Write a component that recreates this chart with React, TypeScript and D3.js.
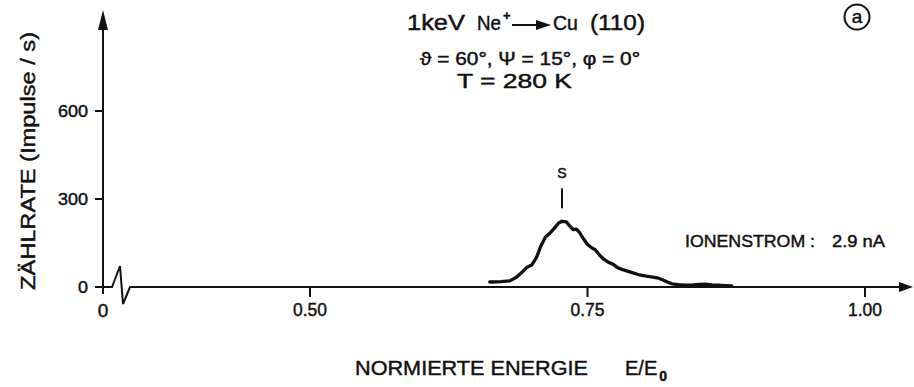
import React from "react";
import * as d3 from "d3";

// Energy spectrum of scattered Ne+ ions (normalised energy E/E0) and count rate
const ENERGY = [
  0.662, 0.672, 0.680, 0.686, 0.691, 0.695, 0.700, 0.704, 0.708, 0.712, 0.716,
  0.720, 0.724, 0.727, 0.731, 0.734, 0.737, 0.740, 0.743, 0.746, 0.750, 0.754,
  0.757, 0.761, 0.765, 0.769, 0.773, 0.777, 0.781, 0.786, 0.791, 0.797, 0.803,
  0.809, 0.814, 0.818, 0.822, 0.826, 0.832, 0.838, 0.845, 0.851, 0.856, 0.862,
  0.868, 0.874, 0.880,
];
const COUNTS = [
  17, 18, 21, 33, 50, 66, 76, 100, 140, 170, 183,
  200, 218, 224, 222, 208, 196, 197, 185, 166, 145, 133,
  127, 108, 94, 84, 78, 66, 60, 54, 48, 41, 37,
  34, 30, 24, 17, 11, 8, 6, 7, 9, 10, 7,
  6, 5, 4,
];

const X_TICKS = [0.5, 0.75, 1.0];
const X_TICK_LABELS = ["0.50", "0.75", "1.00"];
const Y_TICKS = [0, 300, 600];
const Y_TICK_LABELS = ["0", "300", "600"];

const PEAK_LABEL = "S";
const FONT = "'Liberation Sans', Arial, sans-serif";

// slightly heavier lettering than the plain regular face
const ink = { fill: "#111", stroke: "#111", strokeWidth: 0.45 };

export default function App() {
  const width = 914;
  const height = 387;

  const x = d3.scaleLinear().domain([0.5, 1.0]).range([310, 865]);
  const y = d3.scaleLinear().domain([0, 600]).range([287, 111]);

  const axisX = 103; // y-axis position (origin of the broken x-axis)
  const y0 = y(0);

  const line = d3
    .line<number>()
    .x((_, i) => x(ENERGY[i]))
    .y((d) => y(d))
    .curve(d3.curveLinear);

  const peakIdx = COUNTS.indexOf(d3.max(COUNTS) as number);
  const peakX = x(ENERGY[peakIdx]);
  const peakY = y(COUNTS[peakIdx]);

  // axis break zig-zag right of the origin
  const breakPath = [
    [axisX, y0],
    [axisX + 9, y0],
    [axisX + 17, y0 - 21],
    [axisX + 20, y0 + 17],
    [axisX + 27, y0],
    [width - 14, y0],
  ];

  const stroke = "#111";

  return (
    <svg
      width={width}
      height={height}
      style={{ position: "absolute", left: 0, top: 0, background: "#fff" }}
      fontFamily={FONT}
    >
      <rect width={width} height={height} fill="#fff" />

      {/* y axis with arrow */}
      <line x1={axisX} x2={axisX} y1={26} y2={y0 + 7} stroke={stroke} strokeWidth={2} />
      <path d={`M${axisX},10 L${axisX - 5},30 L${axisX + 5},30 Z`} fill={stroke} />

      {/* x axis with break and arrow */}
      <path
        d={d3.line()(breakPath as [number, number][]) || ""}
        fill="none"
        stroke={stroke}
        strokeWidth={2}
        strokeLinejoin="miter"
      />
      <path d={`M${width - 1},${y0} L${width - 15},${y0 - 5} L${width - 15},${y0 + 5} Z`} fill={stroke} />

      {/* y ticks */}
      {Y_TICKS.map((t, i) => (
        <g key={`yt${t}`}>
          <line x1={axisX - 8} x2={axisX} y1={y(t)} y2={y(t)} stroke={stroke} strokeWidth={2} />
          <text
            x={88}
            y={y(t) + 6}
            textAnchor="end"
            fontSize={17}
            {...ink}
            textLength={Y_TICK_LABELS[i].length * 10}
            lengthAdjust="spacingAndGlyphs"
          >
            {Y_TICK_LABELS[i]}
          </text>
        </g>
      ))}

      {/* x ticks */}
      {X_TICKS.map((t, i) => (
        <g key={`xt${t}`}>
          <line x1={x(t)} x2={x(t)} y1={y0} y2={y0 + 10} stroke={stroke} strokeWidth={2} />
          <text
            x={x(t) - 17}
            y={316}
            fontSize={19}
            {...ink}
            textLength={34}
            lengthAdjust="spacingAndGlyphs"
          >
            {X_TICK_LABELS[i]}
          </text>
        </g>
      ))}
      <text x={axisX} y={317} textAnchor="middle" fontSize={19} {...ink}>
        0
      </text>

      {/* spectrum */}
      <path
        d={line(COUNTS) || ""}
        fill="none"
        stroke={stroke}
        strokeWidth={3.3}
        strokeLinejoin="round"
        strokeLinecap="round"
      />

      {/* peak marker */}
      <line x1={peakX} x2={peakX} y1={peakY - 33} y2={peakY - 13} stroke={stroke} strokeWidth={2} />
      <text x={peakX} y={peakY - 43} textAnchor="middle" fontSize={14} {...ink}>
        {PEAK_LABEL}
      </text>

      {/* title block */}
      <text x={407} y={30} fontSize={22} {...ink} textLength={58} lengthAdjust="spacingAndGlyphs">
        1keV
      </text>
      <text x={477} y={30} fontSize={21} {...ink}>
        <tspan textLength={24} lengthAdjust="spacingAndGlyphs">Ne</tspan>
        <tspan dx={2} dy={-10} fontSize={13} fontWeight="bold">+</tspan>
      </text>
      <line x1={512} x2={540} y1={25} y2={25} stroke={stroke} strokeWidth={2} />
      <path d="M536,20 L551,25 L536,30 Z" fill={stroke} />
      <text x={553} y={30} fontSize={21} {...ink} textLength={25} lengthAdjust="spacingAndGlyphs">
        Cu
      </text>
      <text x={590} y={30} fontSize={22} {...ink} textLength={55} lengthAdjust="spacingAndGlyphs">
        (110)
      </text>

      <text x={420} y={65} fontSize={18} {...ink} textLength={220} lengthAdjust="spacingAndGlyphs">
        ϑ = 60°,  Ψ = 15°,  φ = 0°
      </text>
      <text x={457} y={88} fontSize={20} {...ink} textLength={115} lengthAdjust="spacingAndGlyphs">
        T  =  280 K
      </text>

      {/* panel label */}
      <circle cx={857} cy={17} r={12.5} fill="none" stroke={stroke} strokeWidth={2} />
      <text x={857} y={23} textAnchor="middle" fontSize={19} {...ink}>
        a
      </text>

      {/* beam current */}
      <text x={685} y={247} fontSize={17} {...ink} textLength={130} lengthAdjust="spacingAndGlyphs">
        IONENSTROM :
      </text>
      <text x={832} y={247} fontSize={17} {...ink} textLength={53} lengthAdjust="spacingAndGlyphs">
        2.9 nA
      </text>

      {/* axis titles */}
      <text x={355} y={375} fontSize={21} {...ink} textLength={233} lengthAdjust="spacingAndGlyphs">
        NORMIERTE  ENERGIE
      </text>
      <text x={625} y={375} fontSize={20} {...ink}>
        E/E
        <tspan dx={2} dy={6} fontSize={14} fontWeight="bold">0</tspan>
      </text>

      <text
        transform="translate(35,290) rotate(-90)"
        fontSize={20}
        {...ink}
        textLength={258}
        lengthAdjust="spacingAndGlyphs"
      >
        ZÄHLRATE  (Impulse / s)
      </text>
    </svg>
  );
}
